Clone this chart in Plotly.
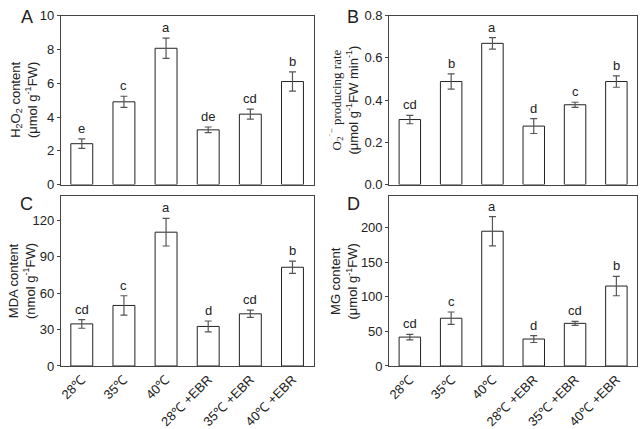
import plotly.graph_objects as go

categories = ["28℃", "35℃", "40℃", "28℃ +EBR", "35℃ +EBR", "40℃ +EBR"]

h2o2_vals = [2.42, 4.90, 8.07, 3.24, 4.17, 6.10]
h2o2_err = [0.28, 0.33, 0.60, 0.17, 0.30, 0.57]
h2o2_letters = ["e", "c", "a", "de", "cd", "b"]

o2_vals = [0.308, 0.488, 0.669, 0.277, 0.378, 0.488]
o2_err = [0.020, 0.036, 0.027, 0.035, 0.012, 0.027]
o2_letters = ["cd", "b", "a", "d", "c", "b"]

mda_vals = [34.7, 49.9, 110.3, 32.6, 43.0, 81.4]
mda_err = [3.6, 8.0, 11.4, 4.5, 3.0, 5.0]
mda_letters = ["cd", "c", "a", "d", "cd", "b"]

mg_vals = [41.7, 68.9, 194.4, 38.9, 61.5, 115.3]
mg_err = [4.0, 9.0, 21.0, 5.0, 3.0, 14.0]
mg_letters = ["cd", "c", "a", "d", "cd", "b"]

W, H = 642, 429
def px_x(v):
    return v / W
def px_y(v):
    return 1 - v / H

panels = [
    dict(vals=h2o2_vals, err=h2o2_err, letters=h2o2_letters, rng=[0, 10], dtick=2, fmt="d",
         xd=[58, 312], yd=[9, 184], letter="A", lx=24, ly=10, tx=21,
         title="H<sub>2</sub>O<sub>2</sub> content<br>(μmol g<sup>-1</sup>FW)", labels=False),
    dict(vals=o2_vals, err=o2_err, letters=o2_letters, rng=[0, 0.8], dtick=0.2, fmt=".1f",
         xd=[388, 637], yd=[9, 184], letter="B", lx=352, ly=10, tx=342,
         title="<span style='font-family:Liberation Serif'>O<sub>2</sub><sup>˙−</sup> producing rate</span><br>(μmol g<sup>-1</sup>FW min<sup>-1</sup>)", labels=False),
    dict(vals=mda_vals, err=mda_err, letters=mda_letters, rng=[0, 140], dtick=30, fmt="d",
         xd=[58, 312], yd=[196, 372], letter="C", lx=24, ly=204, tx=19,
         title="MDA content<br>(nmol g<sup>-1</sup>FW)", labels=True),
    dict(vals=mg_vals, err=mg_err, letters=mg_letters, rng=[0, 245], dtick=50, fmt="d",
         xd=[388, 637], yd=[196, 372], letter="D", lx=352, ly=204, tx=343,
         title="MG content<br>(μmol g<sup>-1</sup>FW)", labels=True),
]

fig = go.Figure()
annotations = []
layout = {}
line_col = "#444444"

for i, p in enumerate(panels, start=1):
    xa = "x" if i == 1 else f"x{i}"
    ya = "y" if i == 1 else f"y{i}"
    fig.add_trace(go.Bar(
        x=categories, y=p["vals"], xaxis=xa, yaxis=ya, width=0.52,
        marker=dict(color="white", line=dict(color="#222222", width=1)),
        error_y=dict(type="data", array=p["err"], visible=True, color="#555555",
                     thickness=1.2, width=3.5),
        showlegend=False, hoverinfo="skip",
    ))
    layout["xaxis" if i == 1 else f"xaxis{i}"] = dict(
        domain=[px_x(p["xd"][0]), px_x(p["xd"][1])], anchor=ya,
        range=[-0.5, 5.5], type="category", showline=True, mirror=True,
        linecolor=line_col, linewidth=1, ticks="", showgrid=False, zeroline=False,
        showticklabels=p["labels"], tickangle=-45, tickfont=dict(size=13),
    )
    layout["yaxis" if i == 1 else f"yaxis{i}"] = dict(
        domain=[px_y(p["yd"][1]), px_y(p["yd"][0])], anchor=xa,
        range=p["rng"], dtick=p["dtick"], tick0=0, tickformat=p["fmt"],
        showline=True, mirror=True, linecolor=line_col, linewidth=1,
        ticks="outside", ticklen=3, tickcolor=line_col, showgrid=False, zeroline=False,
        tickfont=dict(size=13),
    )
    for j, c in enumerate(categories):
        annotations.append(dict(
            x=c, y=p["vals"][j] + p["err"][j], xref=xa, yref=ya, text=p["letters"][j],
            showarrow=False, yanchor="bottom", yshift=1, font=dict(size=13),
        ))
    annotations.append(dict(
        x=px_x(p["lx"]), y=px_y(p["ly"]), xref="paper", yref="paper", text=p["letter"],
        showarrow=False, xanchor="center", yanchor="middle", font=dict(size=18),
    ))
    annotations.append(dict(
        x=px_x(p["tx"]), y=px_y((p["yd"][0] + p["yd"][1]) / 2), xref="paper", yref="paper",
        text=p["title"], textangle=-90, showarrow=False, xanchor="center", yanchor="middle",
        font=dict(size=13),
    ))

fig.update_layout(
    width=W, height=H, margin=dict(l=0, r=0, t=0, b=0),
    paper_bgcolor="white", plot_bgcolor="white",
    font=dict(family="Liberation Sans, Arial, sans-serif", size=13, color="#222222"),
    annotations=annotations, bargap=0.48, **layout,
)

fig.write_html(
    "out.html",
    config={"displayModeBar": False},
    post_script="document.body.style.margin='0';document.body.style.overflow='hidden';",
)
